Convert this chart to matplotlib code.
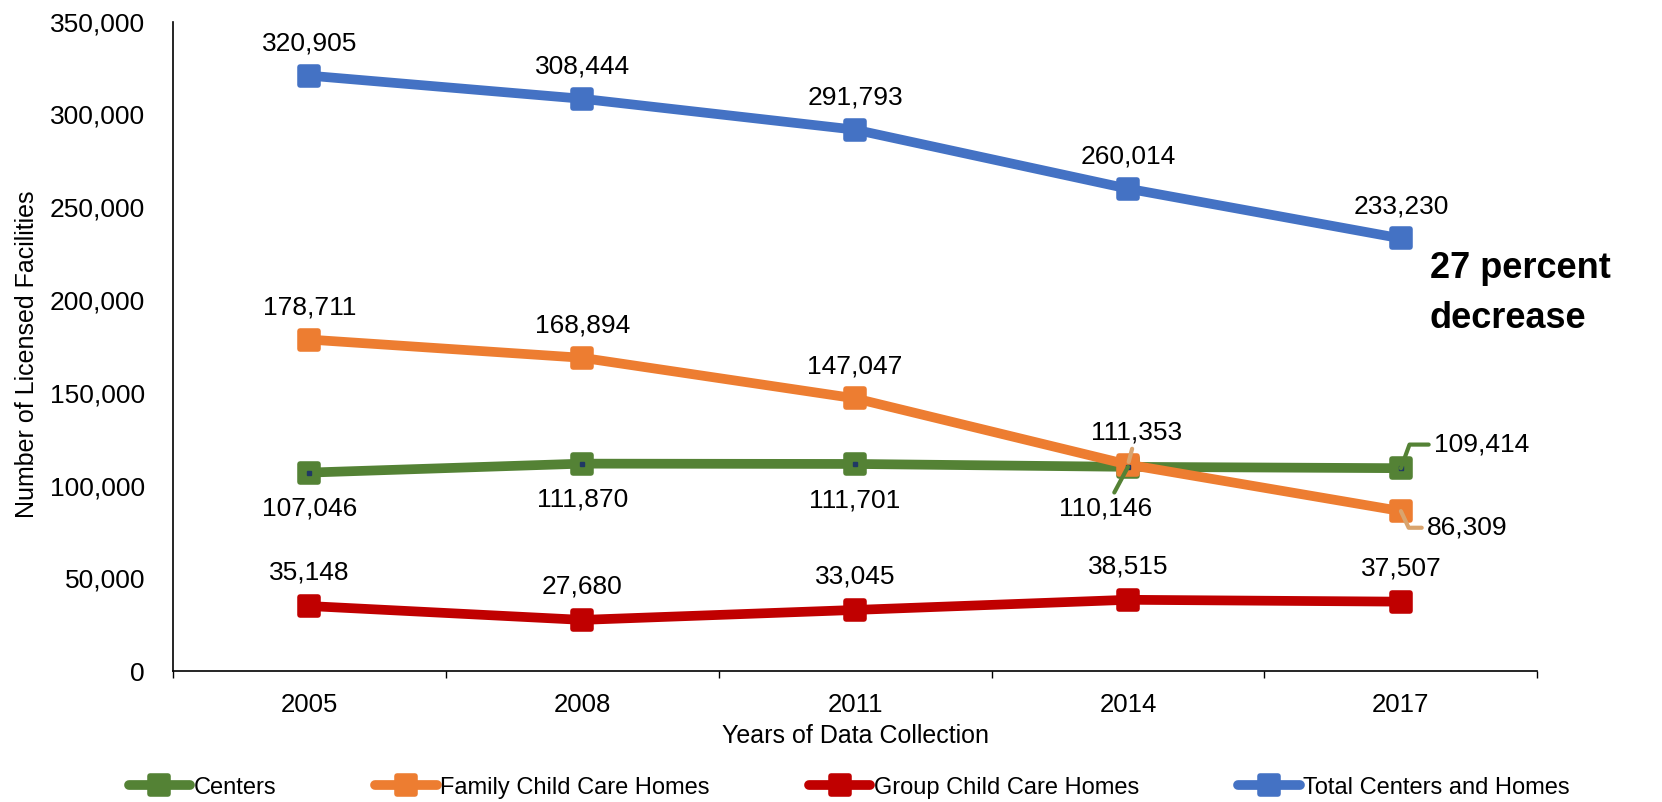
import matplotlib.pyplot as plt
from matplotlib.markers import MarkerStyle
from matplotlib.ticker import FuncFormatter, FixedLocator

plt.rcParams['font.family'] = ['Liberation Sans', 'DejaVu Sans']

# data
years = ['2005', '2008', '2011', '2014', '2017']
centers = [107046, 111870, 111701, 110146, 109414]
family = [178711, 168894, 147047, 111353, 86309]
group = [35148, 27680, 33045, 38515, 37507]
total = [320905, 308444, 291793, 260014, 233230]

series_names = ['Centers', 'Family Child Care Homes', 'Group Child Care Homes',
                'Total Centers and Homes']
colors = ['#548235', '#ED7D31', '#C00000', '#4472C4']

fig = plt.figure(figsize=(16.62, 8.02), dpi=100)
ax = fig.add_axes([0.104, 0.163, 0.821, 0.810])

x = list(range(len(years)))
sq = MarkerStyle('s', joinstyle='round')
for vals, name, c in zip([centers, family, group, total], series_names, colors):
    ax.plot(x, vals, color=c, lw=7, marker=sq, ms=13, mec=c, mew=4,
            solid_capstyle='round', label=name)
# small dark dots inside the Centers markers
ax.plot(x, centers, ls='none', marker='s', ms=3, color='#203864')

fmt = lambda v: f'{v:,}'
fs = 19

# default label positions: above (pts offset), Centers below
def lab(xi, v, dy, dx=0, **kw):
    ax.annotate(fmt(v), (xi, v), xytext=(dx, dy), textcoords='offset points',
                ha='center', va='center', fontsize=fs, **kw)

for i in range(5):
    lab(i, total[i], 23)
    lab(i, group[i], 24)
for i in range(3):
    lab(i, family[i], 23)
    lab(i, centers[i], -26)

# labels with leader lines
ax.annotate(fmt(family[3]), (3, family[3]), xytext=(6, 23), textcoords='offset points',
            ha='center', va='center', fontsize=fs,
            arrowprops=dict(arrowstyle='-', color='#D9A46E', lw=3, shrinkA=1, shrinkB=2))
ax.annotate(fmt(centers[3]), (3, centers[3]), xytext=(-16, -30), textcoords='offset points',
            ha='center', va='center', fontsize=fs,
            arrowprops=dict(arrowstyle='-', color=colors[0], lw=3, shrinkA=1, shrinkB=0))
ax.annotate(fmt(centers[4]), (4, centers[4]), xytext=(24, 17), textcoords='offset points',
            ha='left', va='center', fontsize=fs,
            arrowprops=dict(arrowstyle='-', color=colors[0], lw=3, shrinkA=2, shrinkB=0,
                            connectionstyle='angle,angleA=180,angleB=70,rad=0'))
ax.annotate(fmt(family[4]), (4, family[4]), xytext=(19, -12), textcoords='offset points',
            ha='left', va='center', fontsize=fs,
            arrowprops=dict(arrowstyle='-', color='#D9A46E', lw=3, shrinkA=2, shrinkB=0,
                            connectionstyle='angle,angleA=180,angleB=-65,rad=0'))

ax.text(0.921, 0.582, '27 percent\ndecrease', transform=ax.transAxes, fontsize=26,
        fontweight='bold', ha='left', va='center', linespacing=1.55)

# axes styling
ax.set_xlim(-0.5, 4.5)
ax.set_ylim(0, 350000)
ax.set_xticks(x)
ax.set_xticklabels(years)
ax.xaxis.set_minor_locator(FixedLocator([i - 0.5 for i in range(6)]))
ax.tick_params(axis='x', which='major', length=0, pad=16, labelsize=18.5)
ax.tick_params(axis='x', which='minor', length=5, width=1, direction='out')
ax.set_yticks(range(0, 350001, 50000))
ax.yaxis.set_major_formatter(FuncFormatter(lambda v, p: f'{int(v):,}'))
ax.tick_params(axis='y', length=0, pad=20, labelsize=fs)
for s in ['top', 'right']:
    ax.spines[s].set_visible(False)
for s in ['left', 'bottom']:
    ax.spines[s].set_linewidth(1.2)

ax.set_xlabel('Years of Data Collection', fontsize=18, labelpad=5)
ax.set_ylabel('Number of Licensed Facilities', fontsize=18)
ax.yaxis.set_label_coords(-0.098, 0.488)

fig.legend(loc='center', bbox_to_anchor=(0.511, 0.018), ncol=4, frameon=False,
           fontsize=17, handlelength=2.6, handletextpad=0.15, columnspacing=4.2)

fig.savefig('out.png', dpi=100)
